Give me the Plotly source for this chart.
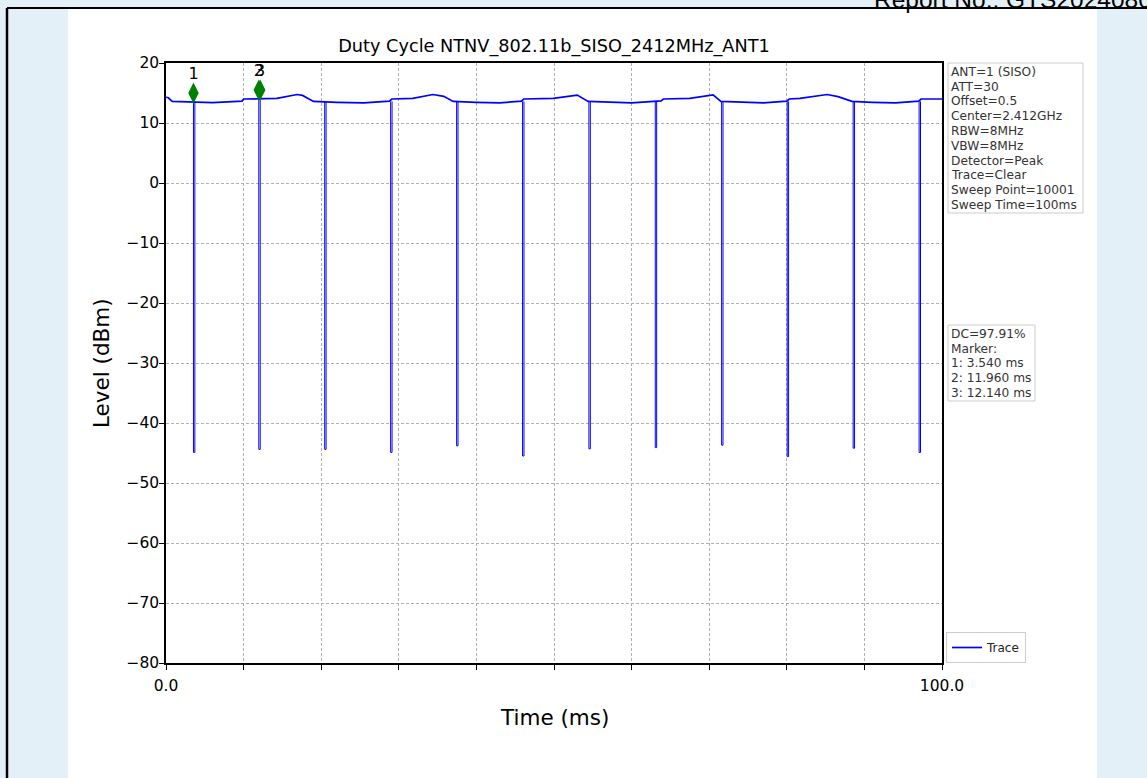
import plotly.graph_objects as go

# ---------------- data ----------------
# baseline of the trace (time in ms, level in dBm)
base_time = [0.0, 0.3, 0.8, 3.0, 6.0, 9.8, 10.0, 14.3, 16.9, 17.6, 19.0, 22.0, 25.5, 28.8,
             29.1, 31.8, 34.4, 35.8, 37.0, 40.0, 43.0, 45.8, 46.1, 49.9, 53.0, 54.4,
             57.0, 60.0, 63.8, 64.1, 67.5, 70.5, 71.5, 74.0, 77.0, 80.0, 80.3, 81.7,
             85.2, 86.6, 88.4, 91.0, 94.0, 97.0, 97.3, 100.0]
base_level = [14.3, 14.2, 13.6, 13.55, 13.4, 13.65, 14.0, 14.1, 14.75, 14.6, 13.6, 13.45, 13.35, 13.65,
              14.0, 14.1, 14.75, 14.45, 13.6, 13.45, 13.35, 13.65, 14.0, 14.1, 14.65, 13.6,
              13.45, 13.35, 13.7, 14.0, 14.1, 14.7, 13.6, 13.45, 13.35, 13.65, 14.0, 14.1,
              14.75, 14.4, 13.6, 13.45, 13.35, 13.65, 14.0, 14.0]

# off periods (spikes): start time, level before, minimum level
spike_time = [3.54, 11.96, 20.45, 28.95, 37.45, 45.95, 54.5, 63.05, 71.6, 80.05, 88.55, 97.05]
spike_top = [13.55, 14.05, 13.5, 13.6, 13.6, 13.6, 13.6, 13.6, 13.6, 13.6, 13.6, 13.6]
spike_floor = [-44.9, -44.4, -44.4, -44.9, -43.8, -45.5, -44.3, -44.1, -43.7, -45.6, -44.2, -44.9]
off_time = 0.18

# markers
marker_time = [3.54, 11.96, 12.14]
marker_level = [15.0, 15.5, 15.5]
marker_label = ["1", "2", "3"]

x_ticks = [0, 10, 20, 30, 40, 50, 60, 70, 80, 90, 100]
x_tick_text = ["0.0", "", "", "", "", "", "", "", "", "", "100.0"]
y_ticks = [20, 10, 0, -10, -20, -30, -40, -50, -60, -70, -80]
y_tick_text = ["20", "10", "0", "\u221210", "\u221220", "\u221230", "\u221240",
               "\u221250", "\u221260", "\u221270", "\u221280"]

info_lines = ["ANT=1 (SISO)", "ATT=30", "Offset=0.5", "Center=2.412GHz", "RBW=8MHz",
              "VBW=8MHz", "Detector=Peak", "Trace=Clear", "Sweep Point=10001",
              "Sweep Time=100ms"]
dc_lines = ["DC=97.91%", "Marker:", "1: 3.540 ms", "2: 11.960 ms", "3: 12.140 ms"]

# ---------------- build the spike segments ----------------
sp_x, sp_y = [], []
for t, top, fl in zip(spike_time, spike_top, spike_floor):
    sp_x += [t, t, t + off_time, t + off_time, None]
    sp_y += [top, fl, fl, top, None]

# ---------------- layout helpers ----------------
W, H = 1147, 778
L, R, T, B = 166, 942, 63, 663


def px(x):
    return (x - L) / (R - L)


def py(y):
    return (B - y) / (B - T)


FONT = "DejaVu Sans"
BOXTXT = "#333333"

fig = go.Figure()
fig.add_trace(go.Scatter(x=base_time, y=base_level, mode="lines", name="Trace",
                         line=dict(color="#0000ff", width=1.7)))
fig.add_trace(go.Scatter(x=sp_x, y=sp_y, mode="lines", showlegend=False,
                         line=dict(color="#0000ff", width=1.0)))
fig.add_trace(go.Scatter(x=marker_time, y=marker_level, mode="markers+text",
                         text=marker_label, textposition="top center",
                         textfont=dict(family=FONT, size=16, color="black"),
                         marker=dict(symbol="diamond-tall", size=15, color="#008000"),
                         showlegend=False, cliponaxis=False))

fig.update_layout(
    width=W, height=H,
    margin=dict(l=L, r=W - R, t=T, b=H - B, pad=0),
    paper_bgcolor="#e4f0f7",
    plot_bgcolor="white",
    font=dict(family=FONT, size=15, color="black"),
    title=dict(text="Duty Cycle NTNV_802.11b_SISO_2412MHz_ANT1", x=0.5, xref="paper",
               y=1 - 46 / H, yanchor="middle", xanchor="center",
               font=dict(family=FONT, size=17.7, color="black")),
    xaxis=dict(range=[0, 100], tickvals=x_ticks, ticktext=x_tick_text,
               ticks="outside", ticklen=5, tickwidth=1, tickcolor="black",
               showline=True, linecolor="black", linewidth=1.5, mirror=True,
               showgrid=True, gridcolor="#b0b0b0", gridwidth=1, griddash="3px,2px",
               zeroline=False, tickfont=dict(size=15.5), ticklabelstandoff=3),
    yaxis=dict(range=[-80, 20], tickvals=y_ticks, ticktext=y_tick_text,
               ticks="outside", ticklen=5, tickwidth=1, tickcolor="black",
               showline=True, linecolor="black", linewidth=1.5, mirror=True,
               showgrid=True, gridcolor="#b0b0b0", gridwidth=1, griddash="3px,2px",
               zeroline=False, tickfont=dict(size=15.5), ticklabelstandoff=-3),
    legend=dict(x=px(946), y=0, xanchor="left", yanchor="bottom",
                bgcolor="white", bordercolor="#cccccc", borderwidth=1,
                font=dict(family=FONT, size=12, color="#222"),
                tracegroupgap=0, itemwidth=30),
    showlegend=True,
)

shapes = [
    dict(type="rect", xref="paper", yref="paper", x0=px(68), x1=px(1097), y0=py(778), y1=py(8),
         fillcolor="white", line=dict(width=0), layer="below"),
    dict(type="line", xref="paper", yref="paper", x0=px(7), x1=px(7), y0=py(778), y1=py(8),
         line=dict(color="black", width=2.5)),
    dict(type="line", xref="paper", yref="paper", x0=px(7), x1=px(1147), y0=py(8), y1=py(8),
         line=dict(color="black", width=2)),
    # info boxes
    dict(type="rect", xref="paper", yref="paper", x0=px(948), x1=px(1083), y0=py(213), y1=py(63),
         fillcolor="white", line=dict(color="#cccccc", width=1)),
    dict(type="rect", xref="paper", yref="paper", x0=px(948), x1=px(1035), y0=py(401), y1=py(325),
         fillcolor="white", line=dict(color="#cccccc", width=1)),
]
fig.update_layout(shapes=shapes)

annotations = []
for i, line in enumerate(info_lines):
    annotations.append(dict(text=line, xref="paper", yref="paper", x=px(950), y=py(71.7 + 14.8 * i),
                            xanchor="left", yanchor="middle", showarrow=False, borderpad=0,
                            font=dict(family=FONT, size=12.2, color=BOXTXT)))
for i, line in enumerate(dc_lines):
    annotations.append(dict(text=line, xref="paper", yref="paper", x=px(950), y=py(334 + 14.7 * i),
                            xanchor="left", yanchor="middle", showarrow=False, borderpad=0,
                            font=dict(family=FONT, size=12.2, color=BOXTXT)))
annotations += [
    dict(text="Level (dBm)", xref="paper", yref="paper", x=px(101), y=0.5,
         xanchor="center", yanchor="middle", textangle=-90, showarrow=False,
         font=dict(family=FONT, size=21.5, color="black")),
    dict(text="Time (ms)", xref="paper", yref="paper", x=0.5, y=py(717),
         xanchor="center", yanchor="middle", showarrow=False,
         font=dict(family=FONT, size=21.5, color="black")),
    dict(text="Report No.: GTS20240800", xref="paper", yref="paper", x=px(872), y=py(15),
         xanchor="left", yanchor="bottom", showarrow=False,
         font=dict(family="Liberation Sans", size=24.5, color="black")),
]
fig.update_layout(annotations=annotations)

fig.write_html("out.html", config={"displayModeBar": False},
               post_script="document.body.style.margin='0';document.body.style.overflow='hidden';")
